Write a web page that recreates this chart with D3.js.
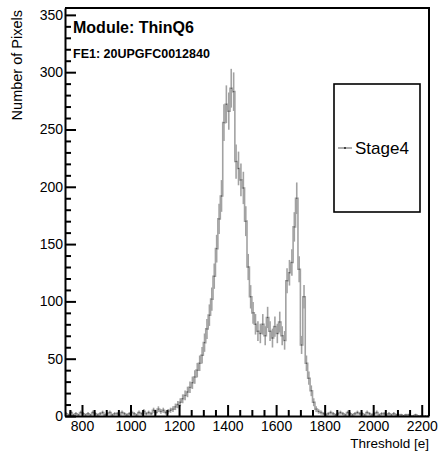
<!DOCTYPE html>
<html>
<head>
<meta charset="utf-8">
<script src="https://cdn.jsdelivr.net/npm/d3@7"></script>
<style>
  body { margin: 0; background: #fff; }
  svg { display: block; }
  text { font-family: "Liberation Sans", Arial, Helvetica, sans-serif; fill: #000; }
</style>
</head>
<body>
<svg id="chart" width="441" height="455"></svg>
<script>
// Threshold histogram binning: first bin low edge and bin width, in electrons
const binStart = 730;
const binWidth = 10;

// Pixel counts per threshold bin
const counts = [
  2, 1, 3, 1, 2, 1, 3, 2, 1, 2,
  1, 3, 2, 1, 2, 3, 1, 2, 3, 1,
  2, 2, 1, 3, 2, 1, 2, 3, 2, 1,
  3, 2, 4, 2, 3, 2, 5, 3, 6, 4,
  5, 3,
  4, 5, 6, 8, 10, 12, 15, 18, 21, 25,
  29, 34, 40, 46, 53, 64, 76, 88, 102, 122,
  146, 172, 192, 256, 272, 266, 286, 283, 222, 216,
  206, 199, 170, 130, 104, 90, 80, 74, 72, 80,
  70, 86, 74, 68, 78, 72, 82, 70, 66, 118,
  125, 134, 165, 190, 128, 62, 104, 46, 33, 22,
  12, 6, 4,
  3, 2, 1, 2, 3, 2, 1, 2, 3, 2,
  1, 3, 2, 1, 2, 3, 2, 2, 1, 3,
  2, 1, 2, 3, 1, 2, 2, 1, 2, 1,
  2, 1, 1, 1, 0, 1, 1, 0, 0, 1,
  0, 0, 0, 0, 0
];

const xTicks = [800, 1000, 1200, 1400, 1600, 1800, 2000, 2200];
const yTicks = [0, 50, 100, 150, 200, 250, 300, 350];
const seriesName = "Stage4";
const moduleLabel = "Module: ThinQ6";
const chipLabel = "FE1: 20UPGFC0012840";
const xTitle = "Threshold [e]";
const yTitle = "Number of Pixels";

const svg = d3.select("#chart");
const frame = { left: 65, right: 429, top: 8, bottom: 416 };

const xMin = binStart, xMax = binStart + counts.length * binWidth;
const x = d3.scaleLinear().domain([xMin, xMax]).range([frame.left, frame.right]);
const y = d3.scaleLinear().domain([0, 356]).range([frame.bottom, frame.top]);

const bins = counts.map((c, i) => ({
  lo: binStart + i * binWidth,
  hi: binStart + (i + 1) * binWidth,
  mid: binStart + (i + 0.5) * binWidth,
  n: c,
  err: Math.sqrt(c)
}));

svg.append("defs").append("clipPath").attr("id", "plot-clip")
  .append("rect")
  .attr("x", frame.left).attr("y", frame.top)
  .attr("width", frame.right - frame.left).attr("height", frame.bottom - frame.top);

const plot = svg.append("g").attr("clip-path", "url(#plot-clip)");
const histColor = "#a2a2a2";

// Step outline
const stepPts = [];
bins.forEach(b => { stepPts.push([b.lo, b.n]); stepPts.push([b.hi, b.n]); });
plot.append("path")
  .attr("d", d3.line().x(d => x(d[0])).y(d => y(d[1]))(stepPts))
  .attr("fill", "none")
  .attr("stroke", histColor)
  .attr("stroke-width", 1.6);

// Statistical error bars
plot.append("g").selectAll("line").data(bins).join("line")
  .attr("x1", d => x(d.mid)).attr("x2", d => x(d.mid))
  .attr("y1", d => y(d.n - d.err)).attr("y2", d => y(d.n + d.err))
  .attr("stroke", histColor)
  .attr("stroke-width", 1.6);

// Bin markers
plot.append("g").selectAll("circle").data(bins).join("circle")
  .attr("cx", d => x(d.mid)).attr("cy", d => y(d.n))
  .attr("r", 0.7)
  .attr("fill", "#555");

// Minor tick values
const yMinor = d3.range(0, 356, 10).filter(v => v % 50 !== 0);
const xMinor = d3.range(750, xMax + 1, 50).filter(v => v % 200 !== 0);

function styleAxis(g) {
  g.selectAll("path.domain").attr("stroke", "#000").attr("stroke-width", 2);
  g.selectAll(".tick line").attr("stroke", "#000").attr("stroke-width", 2);
  g.selectAll("text").style("font-size", "14px").attr("fill", "#000");
}

// Y axis
svg.append("g").attr("transform", `translate(${frame.left},0)`)
  .call(d3.axisLeft(y).tickValues(yMinor).tickSize(-6).tickSizeOuter(0).tickFormat(""))
  .call(styleAxis).call(g => g.select("path.domain").remove());
svg.append("g").attr("transform", `translate(${frame.left},0)`)
  .call(d3.axisLeft(y).tickValues(yTicks).tickSize(-11).tickSizeOuter(0).tickPadding(2).tickFormat(d3.format("d")))
  .call(styleAxis);

// X axis
svg.append("g").attr("transform", `translate(0,${frame.bottom})`)
  .call(d3.axisBottom(x).tickValues(xMinor).tickSize(-6).tickSizeOuter(0).tickFormat(""))
  .call(styleAxis).call(g => g.select("path.domain").remove());
svg.append("g").attr("transform", `translate(0,${frame.bottom})`)
  .call(d3.axisBottom(x).tickValues(xTicks).tickSize(-11).tickSizeOuter(0).tickPadding(5).tickFormat(d3.format("d")))
  .call(styleAxis);

// Frame top and right edges
svg.append("path")
  .attr("d", `M${frame.left},${frame.top}H${frame.right}V${frame.bottom}`)
  .attr("fill", "none").attr("stroke", "#000").attr("stroke-width", 2);

// Axis titles
svg.append("text")
  .attr("x", frame.right).attr("y", 448)
  .attr("text-anchor", "end")
  .style("font-size", "13.5px")
  .text(xTitle);
svg.append("text")
  .attr("transform", `translate(22,${frame.top + 2}) rotate(-90)`)
  .attr("text-anchor", "end")
  .style("font-size", "14.5px")
  .text(yTitle);

// Module / chip labels
svg.append("text")
  .attr("x", 73).attr("y", 33)
  .style("font-size", "16px").style("font-weight", "bold")
  .text(moduleLabel);
svg.append("text")
  .attr("x", 73).attr("y", 58)
  .style("font-size", "12.5px").style("font-weight", "bold")
  .text(chipLabel);

// Legend
const legend = svg.append("g");
legend.append("rect")
  .attr("x", 334).attr("y", 84).attr("width", 86).attr("height", 128)
  .attr("fill", "#fff").attr("stroke", "#000").attr("stroke-width", 1.6);
legend.append("line")
  .attr("x1", 338).attr("x2", 352).attr("y1", 148).attr("y2", 148)
  .attr("stroke", "#777").attr("stroke-width", 1.2);
legend.append("circle").attr("cx", 345).attr("cy", 148).attr("r", 1).attr("fill", "#222");
legend.append("text")
  .attr("x", 355).attr("y", 154)
  .style("font-size", "17px")
  .text(seriesName);
</script>
</body>
</html>
